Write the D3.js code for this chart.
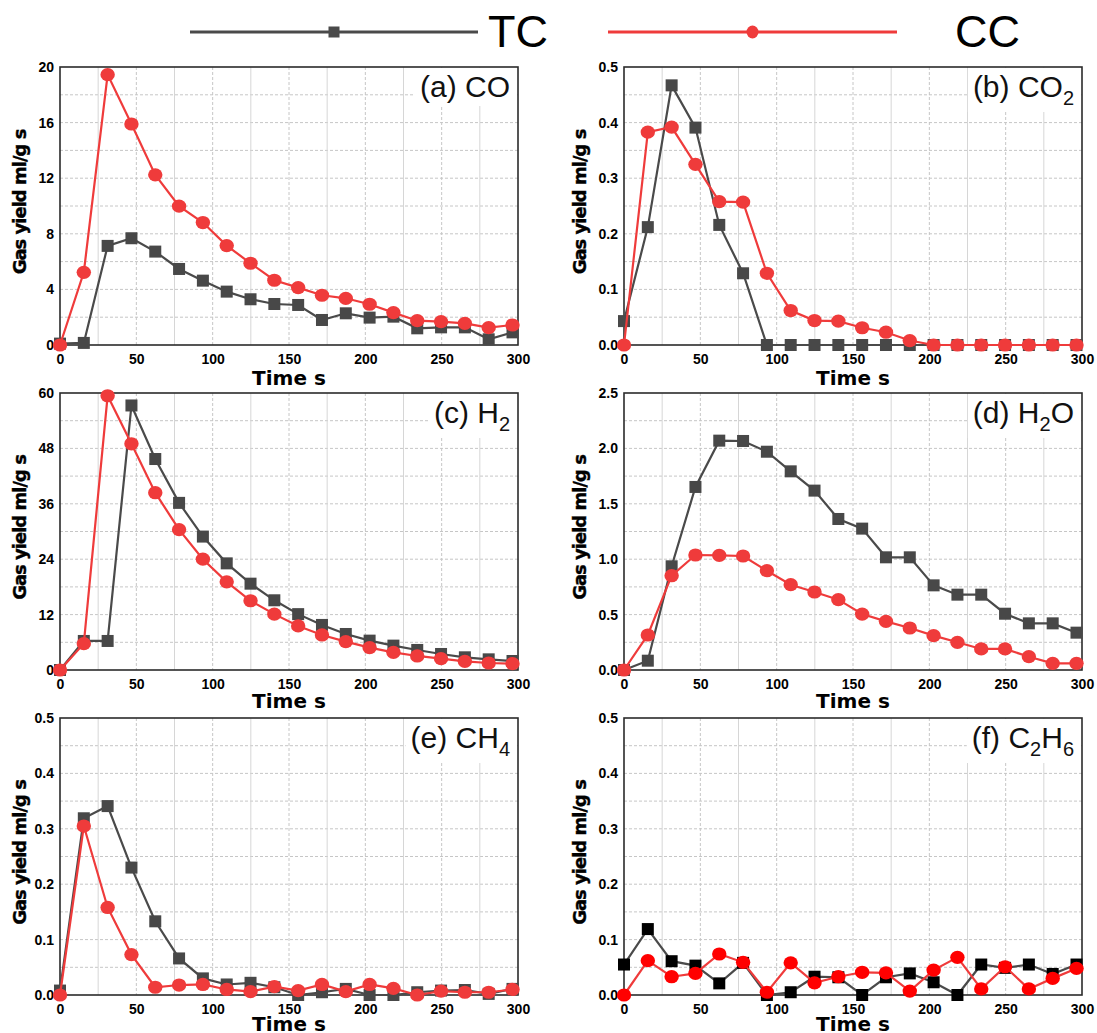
<!DOCTYPE html>
<html>
<head>
<meta charset="utf-8">
<script src="https://cdn.jsdelivr.net/npm/d3@7"></script>
<style>
  body { margin: 0; background: #fff; }
  svg { display: block; }
</style>
</head>
<body>
<svg id="chart" width="1097" height="1033"></svg>
<script>
// Sampling times (s)
const times = [0, 15.6, 31.2, 46.8, 62.4, 78, 93.6, 109.2, 124.8, 140.4, 156, 171.6, 187.2, 202.8, 218.4, 234, 249.6, 265.2, 280.8, 296.4];
const xTicks = [0, 50, 100, 150, 200, 250, 300];
const seriesNames = ["TC", "CC"];

// (a) CO
const coTC = [0.1, 0.15, 7.13, 7.68, 6.72, 5.47, 4.63, 3.84, 3.29, 2.95, 2.88, 1.80, 2.28, 1.97, 2.04, 1.20, 1.27, 1.27, 0.41, 0.91];
const coCC = [0, 5.23, 19.45, 15.9, 12.24, 9.99, 8.81, 7.15, 5.88, 4.66, 4.13, 3.58, 3.36, 2.93, 2.33, 1.75, 1.68, 1.56, 1.25, 1.44];
const coTicks = [0, 4, 8, 12, 16, 20];

// (b) CO2
const co2TC = [0.043, 0.212, 0.467, 0.391, 0.216, 0.129, 0, 0, 0, 0, 0, 0, 0, 0, 0, 0, 0, 0, 0, 0];
const co2CC = [0, 0.383, 0.392, 0.325, 0.258, 0.257, 0.129, 0.062, 0.044, 0.043, 0.031, 0.023, 0.008, 0, 0, 0, 0, 0, 0, 0];
const co2Ticks = [0, 0.1, 0.2, 0.3, 0.4, 0.5];

// (c) H2
const h2TC = [0, 6.29, 6.29, 57.3, 45.7, 36.2, 28.9, 23.1, 18.7, 15.1, 12.1, 9.76, 7.8, 6.36, 5.28, 4.34, 3.47, 2.75, 2.31, 1.95];
const h2CC = [0, 5.71, 59.4, 49.0, 38.4, 30.4, 24.0, 19.1, 15.0, 12.1, 9.54, 7.59, 6.15, 4.84, 3.83, 3.04, 2.46, 1.88, 1.52, 1.37];
const h2Ticks = [0, 12, 24, 36, 48, 60];

// (d) H2O
const h2oTC = [0, 0.084, 0.936, 1.652, 2.07, 2.067, 1.97, 1.793, 1.619, 1.363, 1.276, 1.017, 1.017, 0.764, 0.68, 0.68, 0.508, 0.421, 0.421, 0.337];
const h2oCC = [0, 0.316, 0.851, 1.038, 1.035, 1.029, 0.896, 0.77, 0.704, 0.635, 0.505, 0.439, 0.379, 0.31, 0.25, 0.19, 0.19, 0.12, 0.06, 0.06];
const h2oTicks = [0, 0.5, 1.0, 1.5, 2.0, 2.5];

// (e) CH4
const ch4TC = [0.008, 0.319, 0.341, 0.23, 0.133, 0.066, 0.03, 0.019, 0.022, 0.014, 0, 0.005, 0.011, 0, 0, 0.005, 0.008, 0.009, 0.002, 0.011];
const ch4CC = [0, 0.305, 0.158, 0.073, 0.014, 0.018, 0.019, 0.01, 0.006, 0.015, 0.008, 0.019, 0.006, 0.019, 0.012, 0, 0.007, 0.005, 0.005, 0.01];
const ch4Ticks = [0, 0.1, 0.2, 0.3, 0.4, 0.5];

// (f) C2H6
const c2h6TC = [0.055, 0.119, 0.061, 0.053, 0.021, 0.058, 0, 0.005, 0.033, 0.032, 0, 0.032, 0.039, 0.023, 0, 0.055, 0.049, 0.055, 0.038, 0.055];
const c2h6CC = [0, 0.062, 0.033, 0.039, 0.074, 0.059, 0.005, 0.058, 0.022, 0.033, 0.041, 0.04, 0.007, 0.045, 0.068, 0.011, 0.051, 0.011, 0.03, 0.048];
const c2h6Ticks = [0, 0.1, 0.2, 0.3, 0.4, 0.5];

// Panel titles as [text, isSubscript] pieces
const titleA = [["(a) CO", false]];
const titleB = [["(b) CO", false], ["2", true]];
const titleC = [["(c) H", false], ["2", true]];
const titleD = [["(d) H", false], ["2", true], ["O", false]];
const titleE = [["(e) CH", false], ["4", true]];
const titleF = [["(f) C", false], ["2", true], ["H", false], ["6", true]];

const xTitle = "Time s";
const yTitle = "Gas yield ml/g s";

const panels = [
  { title: titleA, tc: coTC,   cc: coCC,   ticks: coTicks,   fmt: d3.format("d") },
  { title: titleB, tc: co2TC,  cc: co2CC,  ticks: co2Ticks,  fmt: d3.format(".1f") },
  { title: titleC, tc: h2TC,   cc: h2CC,   ticks: h2Ticks,   fmt: d3.format("d") },
  { title: titleD, tc: h2oTC,  cc: h2oCC,  ticks: h2oTicks,  fmt: d3.format(".1f") },
  { title: titleE, tc: ch4TC,  cc: ch4CC,  ticks: ch4Ticks,  fmt: d3.format(".1f") },
  { title: titleF, tc: c2h6TC, cc: c2h6CC, ticks: c2h6Ticks, fmt: d3.format(".1f") }
];

// ---- layout & style ----
const colLeft = [60, 624];
const plotW = 458;
const rowTop = [67, 393, 718];
const rowBottom = [345, 670, 995];
const xTitleDrop = [40, 38, 36];
const yTitleX = [20, 580];

const tcLine = "#4a4a4a", ccLine = "#ef3b3b";
const sansFont = "'Liberation Sans', Arial, sans-serif";
const heavyFont = "'DejaVu Sans', 'Liberation Sans', sans-serif";

const svg = d3.select("#chart");

panels.forEach((p, i) => {
  const col = i % 2, row = Math.floor(i / 2);
  const left = colLeft[col], right = left + plotW;
  const top = rowTop[row], bottom = rowBottom[row];
  const yMax = p.ticks[p.ticks.length - 1];
  const step = p.ticks[1] - p.ticks[0];

  const x = d3.scaleLinear().domain([0, 300]).range([left, right]);
  const y = d3.scaleLinear().domain([0, yMax]).range([bottom, top]);

  const g = svg.append("g");

  // grid: dashed half-step horizontals, dashed majors / solid minors vertically
  const hVals = d3.range(1, 2 * (p.ticks.length - 1)).map(k => k * step / 2);
  g.selectAll(".hgrid").data(hVals).join("line")
    .attr("x1", left).attr("x2", right)
    .attr("y1", d => y(d)).attr("y2", d => y(d))
    .attr("stroke", "#c6c6c6").attr("stroke-width", 1)
    .attr("stroke-dasharray", "3,2");
  const vVals = d3.range(1, 12).map(k => k * 25);
  g.selectAll(".vgrid").data(vVals).join("line")
    .attr("x1", d => x(d)).attr("x2", d => x(d))
    .attr("y1", top).attr("y2", bottom)
    .attr("stroke", d => (d % 50 === 0 ? "#c6c6c6" : "#d6d6d6"))
    .attr("stroke-width", 1)
    .attr("stroke-dasharray", d => (d % 50 === 0 ? "3,2" : null));

  // panel title with white backing
  const titleG = g.append("g");
  const title = titleG.append("text")
    .attr("x", right - 8).attr("y", top + 30)
    .attr("text-anchor", "end")
    .attr("font-family", sansFont)
    .attr("font-size", 30)
    .attr("fill", "#111");
  let shifted = false;
  p.title.forEach(([t, sub]) => {
    const ts = title.append("tspan").text(t);
    if (sub && !shifted) { ts.attr("dy", 8).attr("font-size", 20); shifted = true; }
    else if (sub) { ts.attr("font-size", 20); }
    else if (shifted) { ts.attr("dy", -8); shifted = false; }
  });
  const bb = title.node().getBBox();
  titleG.insert("rect", "text")
    .attr("x", bb.x - 5).attr("y", top + 1)
    .attr("width", right - (bb.x - 5) - 1).attr("height", bb.y + bb.height - top + 2)
    .attr("fill", "#fff");

  // frame
  g.append("rect")
    .attr("x", left).attr("y", top)
    .attr("width", plotW).attr("height", bottom - top)
    .attr("fill", "none").attr("stroke", "#2b2b2b").attr("stroke-width", 1.6);

  // axes
  const xAxis = g.append("g").attr("transform", `translate(0,${bottom})`)
    .call(d3.axisBottom(x).tickValues(xTicks).tickSize(0).tickPadding(9).tickFormat(d3.format("d")));
  const yAxis = g.append("g").attr("transform", `translate(${left},0)`)
    .call(d3.axisLeft(y).tickValues(p.ticks).tickSize(0).tickPadding(6).tickFormat(p.fmt));
  [xAxis, yAxis].forEach(a => {
    a.select(".domain").remove();
    a.selectAll("text")
      .attr("font-family", sansFont).attr("font-weight", "bold")
      .attr("font-size", 14).attr("fill", "#000");
  });

  // axis titles
  g.append("text")
    .attr("x", (left + right) / 2).attr("y", bottom + xTitleDrop[row])
    .attr("text-anchor", "middle")
    .attr("font-family", heavyFont).attr("font-weight", "bold")
    .attr("font-size", 20).attr("fill", "#000")
    .text(xTitle);
  g.append("text")
    .attr("transform", `translate(${yTitleX[col]},${(top + bottom) / 2 - 4}) rotate(-90)`)
    .attr("text-anchor", "middle").attr("dy", "0.35em")
    .attr("font-family", heavyFont).attr("font-weight", "bold")
    .attr("font-size", 18).attr("letter-spacing", -1).attr("fill", "#000")
    .attr("stroke", "#000").attr("stroke-width", 0.4)
    .text(yTitle);

  // series: TC first, CC drawn on top
  const line = d3.line().x((d, k) => x(times[k])).y(d => y(d));
  const sqColor = i === 5 ? "#000" : "#484848";
  const ciColor = i === 5 ? "#ff0000" : "#ef3b3b";

  g.append("path").datum(p.tc)
    .attr("d", line).attr("fill", "none")
    .attr("stroke", tcLine).attr("stroke-width", 2.2);
  g.selectAll(".sq").data(p.tc).join("rect")
    .attr("x", (d, k) => x(times[k]) - 6).attr("y", d => y(d) - 6)
    .attr("width", 12).attr("height", 12)
    .attr("fill", sqColor);

  g.append("path").datum(p.cc)
    .attr("d", line).attr("fill", "none")
    .attr("stroke", ccLine).attr("stroke-width", 2.2);
  g.selectAll(".ci").data(p.cc).join("ellipse")
    .attr("cx", (d, k) => x(times[k])).attr("cy", d => y(d))
    .attr("rx", 7.2).attr("ry", 6.6)
    .attr("fill", ciColor);
});

// legend
const legend = svg.append("g");
const legendItems = [
  { name: seriesNames[0], x1: 190, x2: 478, tx: 488, color: tcLine, shape: "square" },
  { name: seriesNames[1], x1: 608, x2: 897, tx: 955, color: ccLine, shape: "circle" }
];
legendItems.forEach(it => {
  legend.append("line")
    .attr("x1", it.x1).attr("x2", it.x2).attr("y1", 32).attr("y2", 32)
    .attr("stroke", it.color).attr("stroke-width", 3);
  const mx = (it.x1 + it.x2) / 2;
  if (it.shape === "square") {
    legend.append("rect").attr("x", mx - 5.5).attr("y", 26.5).attr("width", 11).attr("height", 11).attr("fill", it.color);
  } else {
    legend.append("ellipse").attr("cx", mx).attr("cy", 32).attr("rx", 6).attr("ry", 6.5).attr("fill", it.color);
  }
  legend.append("text")
    .attr("x", it.tx).attr("y", 47)
    .attr("font-family", sansFont).attr("font-size", 45).attr("fill", "#000")
    .text(it.name);
});
</script>
</body>
</html>
